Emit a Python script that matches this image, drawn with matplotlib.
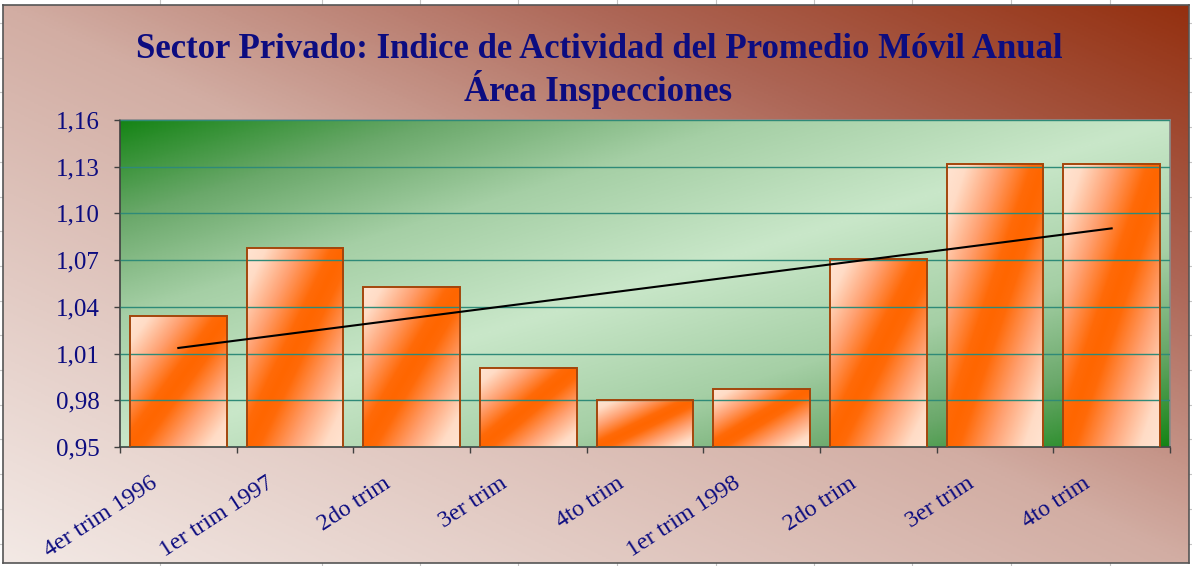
import numpy as np
import matplotlib
matplotlib.use('Agg')
import matplotlib.pyplot as plt
import matplotlib.transforms as mtransforms
from matplotlib.colors import LinearSegmentedColormap

categories = ['4er trim 1996', '1er trim 1997', '2do trim', '3er trim', '4to trim',
              '1er trim 1998', '2do trim', '3er trim', '4to trim']
indice = [1.034, 1.078, 1.053, 1.001, 0.980, 0.987, 1.071, 1.132, 1.132]
y_ticks = [0.95, 0.98, 1.01, 1.04, 1.07, 1.10, 1.13, 1.16]
title_1 = 'Sector Privado: Indice de Actividad del Promedio Móvil Anual'
title_2 = 'Área Inspecciones'

W, H = 1192, 566
NAVY = '#0c0c80'
SERIF = 'Liberation Serif'

fig = plt.figure(figsize=(W / 100, H / 100), dpi=100)
fig.patch.set_facecolor('white')


def px_box(l, t, r, b):
    # pixel box (from top-left) -> figure fraction
    return [l / W, 1 - b / H, (r - l) / W, (b - t) / H]


# spreadsheet cells behind the chart object
for gx in [160, 322, 420, 518, 617, 716, 814, 912, 1011, 1110]:
    fig.add_artist(plt.Line2D([gx / W, gx / W], [0, 1], color='#c4c4c4', lw=0.8, zorder=-10))
for gy in np.arange(23, H, 34.7):
    fig.add_artist(plt.Line2D([0, 1], [1 - gy / H] * 2, color='#c4c4c4', lw=0.8, zorder=-10))

# chart area, diagonal gradient light (bottom-left) -> dark brown (top-right)
bg = fig.add_axes(px_box(3, 5, 1189, 563))
bg_cmap = LinearSegmentedColormap.from_list(
    'bg', [(0, '#f3e9e5'), (0.5, '#d2ada3'), (0.75, '#ad6656'), (1, '#943010')])
u = np.linspace(0, 1, 600)[None, :]
w = np.linspace(1, 0, 300)[:, None]
bg.imshow(bg_cmap((u + w) / 2), extent=[0, 1, 0, 1], aspect='auto', origin='upper')
bg.set_xticks([])
bg.set_yticks([])
for s in bg.spines.values():
    s.set_color('#555555')
    s.set_linewidth(1.2)

fig.text(0.503, 1 - 58 / H, title_1, ha='center', va='baseline', fontsize=25,
         fontweight='bold', family=SERIF, color=NAVY)
fig.text(0.502, 1 - 101 / H, title_2, ha='center', va='baseline', fontsize=25,
         fontweight='bold', family=SERIF, color=NAVY)

# plot area
ax = fig.add_axes(px_box(120, 120, 1170, 447))
x = np.arange(len(indice))
x_lo, x_hi = -0.5, len(indice) - 0.5
y_lo, y_hi = y_ticks[0], y_ticks[-1]

green = LinearSegmentedColormap.from_list(
    'pa', [(0, '#c9e7c9'), (0.4, '#a5cfa5'), (0.7, '#6aa86a'), (1, '#158415')])
uu = np.linspace(0, 1, 500)[None, :]
vv = np.linspace(0, 1, 250)[:, None]
d = np.abs(uu + vv - 1)
ax.imshow(green(d), extent=[x_lo, x_hi, y_lo, y_hi], aspect='auto',
          origin='upper', zorder=0)

bars = ax.bar(x, indice, width=0.83, facecolor='none', edgecolor='#a3460c',
              lw=1.4, zorder=3)

bar_cmap = LinearSegmentedColormap.from_list(
    'bar', [(0, '#ff6600'), (0.12, '#ff6a08'), (0.45, '#ffa070'), (0.8, '#ffdcc6'), (1, '#ffe4d2')])
bu = np.linspace(0, 1, 120)[None, :]
bw = np.linspace(1, 0, 240)[:, None]
bd = np.abs(bu - bw)
for b in bars:
    ax.imshow(bar_cmap(bd), extent=[b.get_x(), b.get_x() + b.get_width(), y_lo, b.get_height()],
              aspect='auto', origin='upper', zorder=2)

# linear trend line
coef = np.polyfit(x, indice, 1)
ends = x[[0, -1]]
ax.plot(ends, np.polyval(coef, ends), color='black', lw=1.5, zorder=4)

ax.set_xlim(x_lo, x_hi)
ax.set_ylim(y_lo, y_hi)
ax.set_yticks(y_ticks)
ax.set_yticklabels([f'{v:.2f}'.replace('.', ',') for v in y_ticks], family=SERIF)
ax.grid(axis='y', color='#2e8a78', lw=1.0, zorder=1)
ax.set_axisbelow(False)

ax.set_xticks(x)
ax.set_xticklabels(categories, family=SERIF, rotation=33, ha='right', va='top',
                   rotation_mode='anchor')
ax.set_xticks(np.arange(x_lo, x_hi + 0.5, 1), minor=True)
ax.tick_params(axis='x', which='major', length=0, pad=18.5, labelsize=17.3, labelcolor=NAVY)
ax.tick_params(axis='x', which='minor', direction='out', length=4.5, width=1, color='#404040')
ax.tick_params(axis='y', direction='out', length=4.5, width=1, color='#404040',
               pad=10, labelsize=18, labelcolor=NAVY)
shift = mtransforms.ScaledTranslation(-29 / 100, 0, fig.dpi_scale_trans)
for lbl in ax.get_xticklabels():
    lbl.set_transform(lbl.get_transform() + shift)

for side in ['left', 'bottom']:
    ax.spines[side].set_color('#404040')
    ax.spines[side].set_linewidth(1.2)
for side in ['top', 'right']:
    ax.spines[side].set_color('#8a8a8a')
    ax.spines[side].set_linewidth(1.2)

fig.savefig('out.png', dpi=100)
